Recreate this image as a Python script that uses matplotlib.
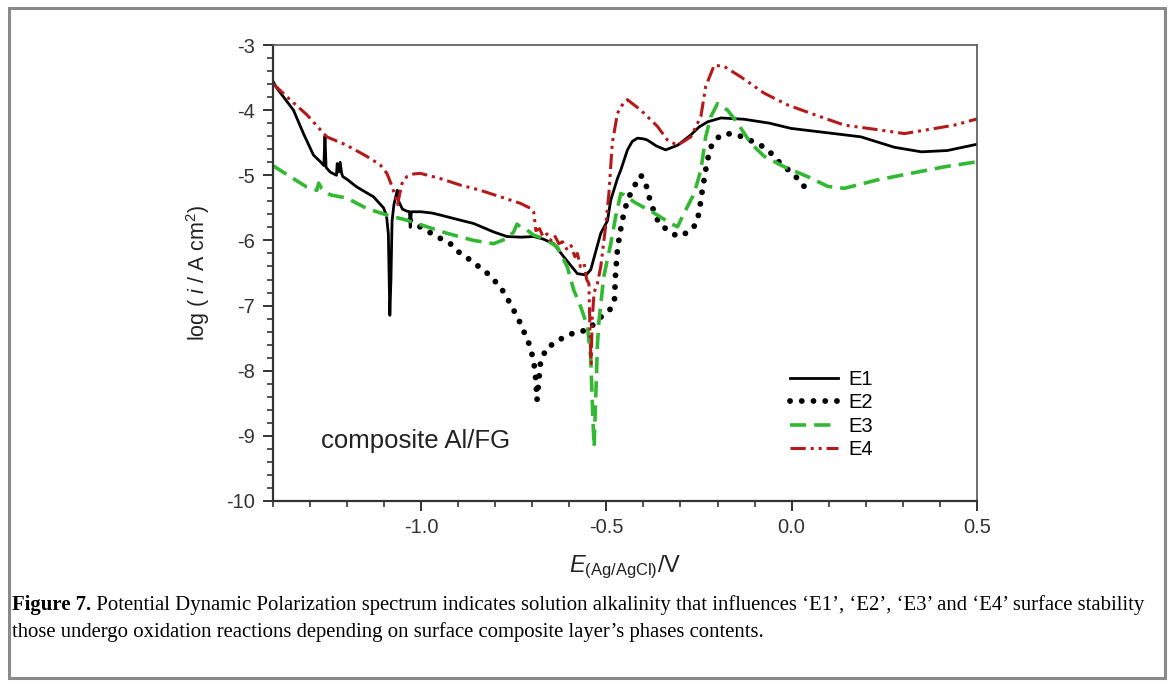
import numpy as np
import matplotlib
matplotlib.use("Agg")
import matplotlib.pyplot as plt
from matplotlib.patches import Rectangle

plt.rcParams['font.family'] = ['Liberation Sans', 'DejaVu Sans']
plt.rcParams['mathtext.fontset'] = 'custom'
plt.rcParams['mathtext.rm'] = 'Liberation Sans'
plt.rcParams['mathtext.it'] = 'Liberation Sans:italic'

# ---- data: potential (V) vs log(i) ----
E1_E = [-1.400, -1.389, -1.344, -1.317, -1.290, -1.270, -1.262, -1.259, -1.256, -1.245,
        -1.228, -1.226, -1.222, -1.218, -1.214, -1.211, -1.200, -1.173, -1.128, -1.101,
        -1.093, -1.088, -1.084, -1.081, -1.078, -1.073, -1.068, -1.064, -1.060, -1.050,
        -1.038, -1.031, -1.029, -1.026, -1.000, -0.970, -0.948, -0.900, -0.858, -0.804,
        -0.768, -0.730, -0.696, -0.670, -0.642, -0.615, -0.578, -0.555, -0.542, -0.530,
        -0.515, -0.497, -0.488, -0.470, -0.461, -0.443, -0.430, -0.416, -0.400, -0.389,
        -0.365, -0.340, -0.308, -0.272, -0.250, -0.227, -0.191, -0.128, -0.060, -0.002,
        0.100, 0.187, 0.277, 0.350, 0.420, 0.503]
E1_logi = [-3.55, -3.66, -4.00, -4.36, -4.69, -4.80, -4.85, -4.40, -4.88, -4.95,
           -5.00, -4.82, -4.95, -4.80, -4.97, -5.02, -5.06, -5.18, -5.33, -5.50,
           -5.62, -5.90, -7.15, -6.60, -5.70, -5.45, -5.33, -5.23, -5.40, -5.52,
           -5.55, -5.56, -5.80, -5.56, -5.56, -5.58, -5.61, -5.68, -5.74, -5.87,
           -5.94, -5.95, -5.94, -5.98, -6.05, -6.25, -6.51, -6.53, -6.45, -6.20,
           -5.89, -5.70, -5.38, -5.05, -4.92, -4.61, -4.48, -4.43, -4.44, -4.46,
           -4.55, -4.61, -4.54, -4.38, -4.26, -4.18, -4.12, -4.14, -4.20, -4.28,
           -4.35, -4.41, -4.57, -4.64, -4.62, -4.52]

E2_E = [-1.029, -1.000, -0.957, -0.921, -0.894, -0.867, -0.822, -0.786, -0.759, -0.732,
        -0.709, -0.696, -0.690, -0.687, -0.683, -0.678, -0.673, -0.659, -0.637, -0.615,
        -0.578, -0.551, -0.533, -0.510, -0.488, -0.478, -0.475, -0.470, -0.465, -0.457,
        -0.443, -0.425, -0.407, -0.395, -0.380, -0.358, -0.335, -0.308, -0.277, -0.258,
        -0.250, -0.241, -0.232, -0.223, -0.214, -0.191, -0.164, -0.132, -0.083, -0.056,
        -0.030, -0.002, 0.025, 0.043]
E2_logi = [-5.69, -5.80, -5.94, -6.05, -6.20, -6.30, -6.50, -6.71, -6.97, -7.27,
           -7.58, -7.84, -8.15, -8.45, -8.20, -7.90, -7.80, -7.63, -7.58, -7.48,
           -7.40, -7.38, -7.28, -7.15, -7.05, -6.91, -6.50, -6.15, -5.95, -5.69,
           -5.38, -5.17, -5.00, -5.10, -5.43, -5.74, -5.84, -5.94, -5.87, -5.75,
           -5.58, -5.23, -4.92, -4.66, -4.51, -4.38, -4.36, -4.41, -4.54, -4.66,
           -4.82, -4.95, -5.10, -5.25]

E3_E = [-1.400, -1.353, -1.308, -1.281, -1.276, -1.268, -1.245, -1.200, -1.146, -1.092,
        -1.038, -0.984, -0.930, -0.858, -0.804, -0.768, -0.750, -0.741, -0.732, -0.714,
        -0.696, -0.669, -0.632, -0.605, -0.588, -0.569, -0.551, -0.542, -0.537, -0.533,
        -0.529, -0.524, -0.520, -0.507, -0.488, -0.475, -0.461, -0.452, -0.425, -0.371,
        -0.326, -0.308, -0.290, -0.263, -0.245, -0.232, -0.218, -0.200, -0.173, -0.146,
        -0.110, -0.074, -0.020, 0.043, 0.097, 0.142, 0.232, 0.322, 0.412, 0.503]
E3_logi = [-4.85, -5.02, -5.18, -5.23, -5.12, -5.20, -5.30, -5.35, -5.51, -5.61,
           -5.69, -5.79, -5.89, -6.00, -6.05, -5.97, -5.87, -5.75, -5.79, -5.84,
           -5.92, -5.97, -6.10, -6.41, -6.76, -7.02, -7.32, -7.80, -8.60, -9.17,
           -8.50, -7.60, -7.25, -6.56, -6.05, -5.64, -5.28, -5.30, -5.41, -5.58,
           -5.74, -5.79, -5.58, -5.28, -4.92, -4.41, -4.10, -3.90, -4.00, -4.20,
           -4.51, -4.71, -4.87, -5.02, -5.17, -5.20, -5.07, -4.97, -4.87, -4.79]

E4_E = [-1.400, -1.353, -1.308, -1.254, -1.200, -1.146, -1.110, -1.092, -1.078, -1.069,
        -1.063, -1.058, -1.050, -1.038, -1.020, -1.002, -0.948, -0.894, -0.840, -0.786,
        -0.732, -0.700, -0.696, -0.690, -0.680, -0.670, -0.660, -0.650, -0.640, -0.628,
        -0.618, -0.605, -0.595, -0.585, -0.578, -0.570, -0.560, -0.553, -0.547, -0.544,
        -0.541, -0.538, -0.533, -0.524, -0.515, -0.502, -0.493, -0.484, -0.470, -0.452,
        -0.443, -0.407, -0.362, -0.335, -0.308, -0.272, -0.245, -0.232, -0.209, -0.182,
        -0.137, -0.074, -0.011, 0.052, 0.142, 0.232, 0.304, 0.367, 0.439, 0.503]
E4_logi = [-3.59, -3.84, -4.07, -4.41, -4.54, -4.71, -4.84, -4.97, -5.17, -5.33,
           -5.45, -5.30, -5.10, -5.02, -4.98, -4.97, -5.05, -5.15, -5.23, -5.33,
           -5.43, -5.52, -5.56, -5.85, -5.82, -5.95, -5.90, -6.00, -5.92, -6.05,
           -6.02, -6.15, -6.08, -6.25, -6.20, -6.40, -6.35, -6.60, -6.66, -7.40,
           -7.89, -7.20, -6.80, -6.66, -6.40, -5.79, -5.28, -4.51, -4.05, -3.87,
           -3.84, -4.00, -4.25, -4.46, -4.54, -4.41, -4.10, -3.64, -3.31, -3.33,
           -3.49, -3.74, -3.92, -4.05, -4.23, -4.30, -4.36, -4.30, -4.23, -4.13]

labels = ['E1', 'E2', 'E3', 'E4']
caption_bold = 'Figure 7.'
caption_1 = (' Potential Dynamic Polarization spectrum indicates solution alkalinity that '
             'influences \u2018E1\u2019, \u2018E2\u2019, \u2018E3\u2019 and \u2018E4\u2019 surface stability')
caption_2 = 'those undergo oxidation reactions depending on surface composite layer\u2019s phases contents.'

W, H = 1171, 684
fig = plt.figure(figsize=(W / 100, H / 100), dpi=100)
ax = fig.add_axes([272.7 / W, 1 - 501 / H, (977 - 272.7) / W, (501 - 45) / H])

green = '#33b833'
red = '#b51a1a'
ax.plot(E1_E, E1_logi, color='black', lw=2.0, label=labels[0])
ax.plot(E2_E, E2_logi, color='black', lw=4.2, linestyle=(0, (0.01, 2.0)),
        dash_capstyle='round', label=labels[1])
ax.plot(E3_E, E3_logi, color=green, lw=2.6, linestyle=(0, (4.5, 2.2)), label=labels[2])
ax.plot(E4_E, E4_logi, color=red, lw=2.2, linestyle=(0, (5, 1.6, 1, 1.6, 1, 1.6)),
        label=labels[3])

ax.set_xlim(-1.4, 0.5)
ax.set_ylim(-10, -3)
ax.set_xticks([-1.0, -0.5, 0.0, 0.5])
ax.set_xticklabels(['-1.0', '-0.5', '0.0', '0.5'])
ax.set_xticks(np.arange(-1.4, 0.5, 0.1), minor=True)
ax.set_yticks(np.arange(-10, -2, 1))
ax.set_yticklabels([str(v) for v in range(-10, -2)])
ax.set_yticks(np.arange(-10, -3, 0.2), minor=True)

for s in ['left', 'bottom']:
    ax.spines[s].set_linewidth(1.6)
    ax.spines[s].set_color('#333333')
for s in ['top', 'right']:
    ax.spines[s].set_linewidth(1.2)
    ax.spines[s].set_color('#555555')
ax.tick_params(which='major', direction='out', length=7, width=1.4, labelsize=14.5,
               colors='#333333', pad=6)
ax.tick_params(which='minor', direction='out', length=4, width=1.2, colors='#333333')
ax.tick_params(axis='x', which='major', pad=5)
ax.tick_params(axis='x', which='both', top=False)
ax.tick_params(axis='y', which='both', right=False)

ax.set_ylabel(r'log ( $i$ / A cm$^{2}$)', fontsize=15.5, color='#222222', labelpad=10)
ax.set_xlabel(r'$E_{\mathrm{(Ag/AgCl)}}$/V', fontsize=17, color='#222222', labelpad=12)

ax.text(-1.270, -9.08, 'composite Al/FG', fontsize=18.5, color='#222222', va='center')

ax.legend(loc='upper left', bbox_to_anchor=(780 / W, 1 - 360 / H),
          bbox_transform=fig.transFigure, frameon=False, fontsize=14.5,
          handlelength=2.4, handletextpad=0.5, labelspacing=0.22, borderpad=0)

# outer frame
fig.patches.append(Rectangle((9 / W, 6 / H), (1165 - 9) / W, (678 - 8) / H,
                             transform=fig.transFigure, fill=False,
                             edgecolor='#8a8a8a', lw=2.2))

# caption, scaled to the measured width of the first line
serif = ['Liberation Serif', 'DejaVu Serif']
fs = 14
t_b = fig.text(12 / W, 1 - 605 / H, caption_bold, family=serif, weight='bold',
               fontsize=fs, va='center')
t_1 = fig.text(0, 1 - 605 / H, caption_1, family=serif, fontsize=fs, va='center')
fig.canvas.draw()
r = fig.canvas.get_renderer()
wb = t_b.get_window_extent(r).width
w1 = t_1.get_window_extent(r).width
fs = fs * (1152 - 12) / (wb + w1)
t_b.set_fontsize(fs)
t_1.set_fontsize(fs)
fig.canvas.draw()
wb = t_b.get_window_extent(r).width
t_1.set_x((12 + wb) / W)
fig.text(12 / W, 1 - 632 / H, caption_2, family=serif, fontsize=fs, va='center')

fig.savefig('out.png', dpi=100)
